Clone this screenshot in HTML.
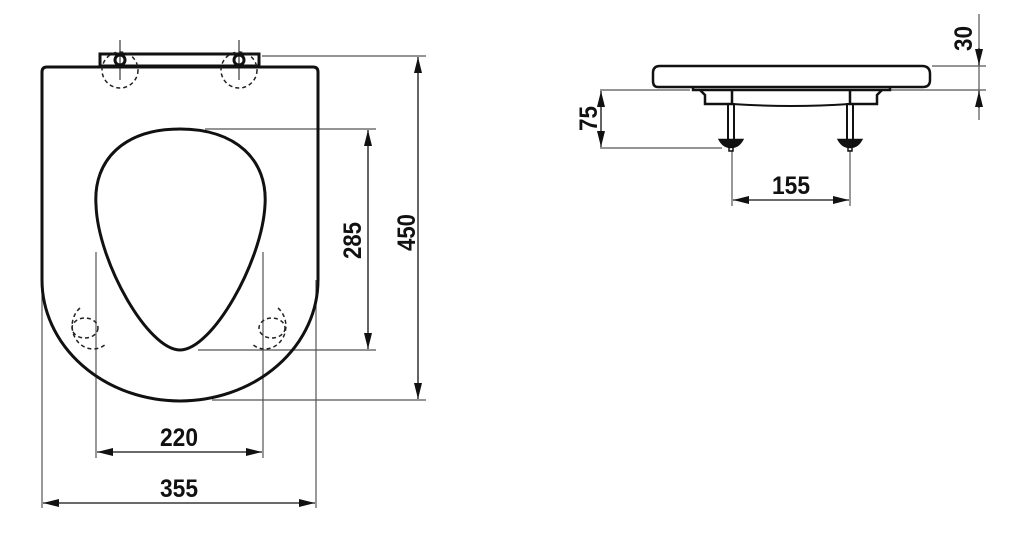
<!DOCTYPE html>
<html><head><meta charset="utf-8"><style>
html,body{margin:0;padding:0;background:#fff}
svg{display:block}
text{font-family:"Liberation Sans Narrow","Liberation Sans",sans-serif;font-weight:bold;font-size:25px;fill:#111}
</style></head><body>
<svg width="1024" height="540" viewBox="0 0 1024 540" xmlns="http://www.w3.org/2000/svg">
<defs>
<marker id="a" viewBox="0 0 16 8" refX="16" refY="4" markerWidth="16" markerHeight="8" markerUnits="userSpaceOnUse" orient="auto-start-reverse"><path d="M0,0 L16,4 L0,8 Z" fill="#111"/></marker>
</defs>
<g stroke="#555" stroke-width="1.2" fill="none">
<line x1="262" y1="56" x2="426" y2="56"/>
<line x1="205" y1="129" x2="376" y2="129"/>
<line x1="198" y1="350" x2="376" y2="350"/>
<line x1="212" y1="400" x2="426" y2="400"/>
<line x1="96" y1="252" x2="96" y2="458"/>
<line x1="263" y1="252" x2="263" y2="458"/>
<line x1="42" y1="280" x2="42" y2="508"/>
<line x1="316" y1="280" x2="316" y2="508"/>
<line x1="932" y1="66" x2="986" y2="66"/>
<line x1="890" y1="90" x2="986" y2="90"/>
<line x1="600" y1="90" x2="690" y2="90"/>
<line x1="600" y1="148" x2="722" y2="148"/>
<line x1="732" y1="150" x2="732" y2="206"/>
<line x1="850" y1="150" x2="850" y2="206"/>
<line x1="979" y1="14" x2="979" y2="120"/>
</g>
<g stroke="#111" stroke-width="1.3" fill="none">
<line x1="368" y1="130" x2="368" y2="349" marker-start="url(#a)" marker-end="url(#a)"/>
<line x1="418" y1="57" x2="418" y2="399" marker-start="url(#a)" marker-end="url(#a)"/>
<line x1="97" y1="452" x2="262" y2="452" marker-start="url(#a)" marker-end="url(#a)"/>
<line x1="43" y1="503" x2="315" y2="503" marker-start="url(#a)" marker-end="url(#a)"/>
<line x1="601" y1="91" x2="601" y2="147" marker-start="url(#a)" marker-end="url(#a)"/>
<line x1="733" y1="200" x2="849" y2="200" marker-start="url(#a)" marker-end="url(#a)"/>
<line x1="979" y1="48" x2="979" y2="65" marker-end="url(#a)"/>
<line x1="979" y1="108" x2="979" y2="91" marker-end="url(#a)"/>
</g>
<g stroke="#111" stroke-width="3" fill="none">
<path d="M42,72 Q42,67 47,67 L313,67 Q318,67 318,72 L318,280 A138,121 0 0 1 42,280 Z"/>
<path d="M180,129 C236,129 268,160 265,205 C262,262 212,350 180,350 C148,350 98,262 96,205 C93,160 124,129 180,129 Z"/>
<rect x="100" y="54" width="159" height="12" stroke-width="3"/>
<circle cx="120" cy="60" r="5" stroke-width="3"/>
<circle cx="239" cy="60" r="5" stroke-width="3"/>
</g>
<g stroke="#111" stroke-width="1" fill="none">
<line x1="120" y1="40" x2="120" y2="80"/>
<line x1="239" y1="40" x2="239" y2="80"/>
</g>
<g stroke="#222" stroke-width="1.5" fill="none" stroke-dasharray="4,3">
<circle cx="120" cy="70" r="18"/>
<circle cx="239" cy="70" r="18"/>
<ellipse cx="85" cy="328" rx="13" ry="10"/>
<path d="M80,308 A20,22 0 0 0 106,344"/>
<ellipse cx="272" cy="328" rx="13" ry="10"/>
<path d="M278,308 A20,22 0 0 1 252,344"/>
</g>
<g stroke="#111" stroke-width="2.5" fill="none">
<path d="M660,66 L922,66 Q930,66 930,74 L930,80 Q930,87 923,87 L658,87 Q653,87 653,81 L653,73 Q653,66 660,66 Z"/>
<path d="M693,87 L693,90 L890,90 L890,87"/>
<path d="M700,90 L705,95 L705,104 L732,104 L732,90"/>
<path d="M882,90 L877,95 L877,104 L850,104 L850,90"/>
<path d="M732,104 Q791,108 850,104" stroke-width="2"/>
<rect x="728" y="104" width="6" height="36" stroke-width="2"/>
<rect x="847" y="104" width="6" height="36" stroke-width="2"/>
<path d="M720,140 L742,140 Q738,147 731,147 Q724,147 720,140 Z" fill="#111"/>
<path d="M839,140 L861,140 Q857,147 850,147 Q843,147 839,140 Z" fill="#111"/>
<rect x="729" y="146" width="4" height="5" stroke-width="1.5"/>
<rect x="848" y="146" width="4" height="5" stroke-width="1.5"/>
</g>
<text x="160" y="446" textLength="38" lengthAdjust="spacingAndGlyphs">220</text>
<text x="160" y="497" textLength="38" lengthAdjust="spacingAndGlyphs">355</text>
<text transform="translate(361,259) rotate(-90)" textLength="37" lengthAdjust="spacingAndGlyphs">285</text>
<text transform="translate(415,251) rotate(-90)" textLength="37" lengthAdjust="spacingAndGlyphs">450</text>
<text x="772" y="194" textLength="38" lengthAdjust="spacingAndGlyphs">155</text>
<text transform="translate(597,131) rotate(-90)" textLength="25" lengthAdjust="spacingAndGlyphs">75</text>
<text transform="translate(972,51) rotate(-90)" textLength="25" lengthAdjust="spacingAndGlyphs">30</text>
</svg>
</body></html>
